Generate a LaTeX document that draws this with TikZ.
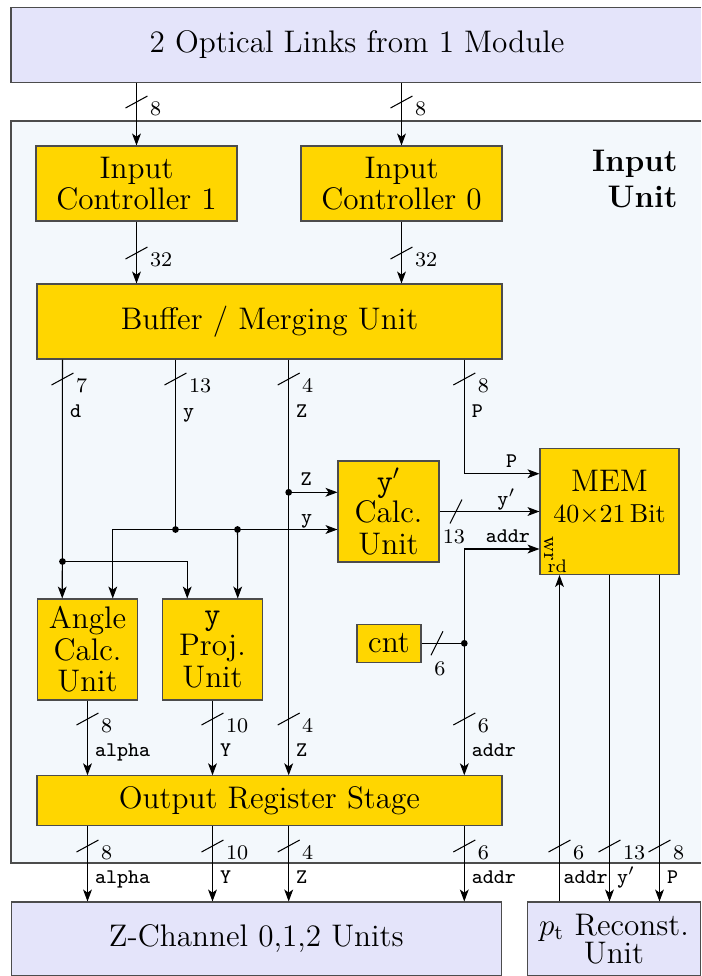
\documentclass[tikz,border=0pt]{standalone}
\usetikzlibrary{arrows.meta,calc}
\definecolor{blockyellow}{RGB}{255,214,0}
\definecolor{linkblue}{RGB}{228,228,250}
\definecolor{unitblue}{RGB}{243,248,252}
\newcommand\pxu{0.3846pt}

\begin{document}
\begin{tikzpicture}[x=\pxu,y=-\pxu,>={Stealth[length=4.6pt,width=3.4pt,inset=1.2pt]},
  blk/.style={draw=black!70,fill=blockyellow,align=center,inner sep=0pt,font=\fontsize{12}{12.1}\selectfont},
  ext/.style={draw=black!70,fill=linkblue,align=center,inner sep=0pt,font=\large},
  num/.style={font=\footnotesize,anchor=base west,inner sep=0pt},
  sig/.style={font=\footnotesize\ttfamily,anchor=base west,inner sep=0pt},
  lbl/.style={font=\footnotesize\ttfamily,anchor=base,inner sep=0pt,yshift=2.5pt}]
\useasboundingbox (0,0) rectangle (701,976);
\clip (0,0) rectangle (701,976);
% outer boxes
\node[ext,minimum width=692*\pxu,minimum height=75*\pxu] (links) at (357,45) {2 Optical Links from 1 Module};
\node[draw=black!70,fill=unitblue,minimum width=692*\pxu,minimum height=742*\pxu,inner sep=0pt] (inunit) at (357,492) {};
\node[font=\large\bfseries,align=right,anchor=north east,inner sep=0pt] (unitlabel) at (678,149.5) {Input\\Unit};
\node[ext,minimum width=490*\pxu,minimum height=74*\pxu] (zch) at (256.3,939) {Z-Channel 0,1,2 Units};
\node[ext,minimum width=173*\pxu,minimum height=74*\pxu,font=\fontsize{12}{11}\selectfont] (ptrec) at (614,939) {$p_\mathrm{t}$ Reconst.\\Unit};
% blocks
\node[blk,minimum width=201*\pxu,minimum height=75*\pxu] (ic1) at (136.5,183.5) {Input\\Controller 1};
\node[blk,minimum width=201*\pxu,minimum height=75*\pxu] (ic0) at (401.5,183.5) {Input\\Controller 0};
\node[blk,minimum width=465*\pxu,minimum height=75*\pxu] (buf) at (269.5,321.5) {Buffer / Merging Unit};
\node[blk,minimum width=101*\pxu,minimum height=101*\pxu] (ycalc) at (388.5,511.5) {\texttt{y}$'$\\Calc.\\Unit};
\node[blk,minimum width=139*\pxu,minimum height=126*\pxu] (mem) at (609.5,511.5) {};
\node[align=center,inner sep=0pt,font=\fontsize{12}{12.1}\selectfont] (memtext) at (609.5,497.5) {MEM\\{\normalsize 40$\times$21\,Bit}};
\node[font=\footnotesize,rotate=-90,inner sep=0pt] (wrport) at (548.5,549) {wr};
\node[font=\scriptsize,anchor=base west,inner sep=0pt] (rdlabel) at (547,572.5) {rd};
\node[blk,minimum width=100*\pxu,minimum height=101*\pxu] (ang) at (87.5,649.5) {Angle\\Calc.\\Unit};
\node[blk,minimum width=100*\pxu,minimum height=101*\pxu] (yproj) at (212.5,649.5) {\texttt{y}\\Proj.\\Unit};
\node[blk,minimum width=64*\pxu,minimum height=38*\pxu] (cnt) at (389,643.3) {cnt};
\node[blk,minimum width=465*\pxu,minimum height=50*\pxu] (ors) at (269.5,800.8) {Output Register Stage};
% split points
\coordinate (dsplit) at (62.5,561.5);
\coordinate (ysplit) at (175.5,529.5);
\coordinate (ysplit2) at (237.5,529.5);
\coordinate (zsplit) at (288.7,492.3);
\coordinate (pbend) at (464.3,473.7);
\coordinate (abend) at (464.3,549);
\coordinate (asplit) at (464.3,643.3);
\coordinate (rdport) at ($(mem.south)+(-50,0)$);
\coordinate (pport) at ($(mem.south)+(50,0)$);
% connectors
\foreach \n in {ic1,ic0}{
\draw[->] (\n.north |- links.south) -- (\n.north);
\draw[->] (\n.south) -- (\n.south |- buf.north);
}
\draw[->] (dsplit |- buf.south) -- ($(ang.north west)!0.5!(ang.north)$);
\draw[->] (dsplit) -| ($(yproj.north west)!0.5!(yproj.north)$);
\draw (ysplit |- buf.south) -- (ysplit);
\draw[->] (ysplit) -| ($(ang.north)!0.5!(ang.north east)$);
\draw[->] (ysplit) -- (ysplit -| ycalc.west) node[lbl,pos=0.81] {y};
\draw[->] (ysplit2) -- ($(yproj.north)!0.5!(yproj.north east)$);
\draw[->] (zsplit |- buf.south) -- (zsplit |- ors.north);
\draw[->] (zsplit) -- (zsplit -| ycalc.west) node[lbl,pos=0.36] {Z};
\draw[->] (pbend |- buf.south) -- (pbend) -- (pbend -| mem.west) node[lbl,pos=0.63] {P};
\draw[->] (ycalc.east) -- (ycalc.east -| mem.west) node[lbl,pos=0.67] {y$'$};
\draw (cnt.east) -- (asplit);
\draw[->] (asplit) -- (abend) -- (abend -| mem.west) node[lbl,pos=0.58] {addr};
\draw[->] (asplit) -- (asplit |- ors.north);
\foreach \n in {ang,yproj} \draw[->] (\n.south) -- (\n.south |- ors.north);
\foreach \n in {ang,yproj,zsplit,asplit} \draw[->] (\n |- ors.south) -- (\n |- zch.north);
\draw[->] (rdport |- ptrec.north) -- (rdport);
\draw[->] (mem.south) -- (mem.south |- ptrec.north);
\draw[->] (pport) -- (pport |- ptrec.north);
\foreach \c in {dsplit,ysplit,ysplit2,zsplit,asplit} \fill (\c) circle[radius=1.3pt];
% bus widths
\foreach \x/\y/\w in {136.5/102/8,401.5/102/8,136.5/253/32,401.5/253/32,62.5/379/7,175.5/379/13,288.7/379/4,464.3/379/8,
  87.5/719/8,212.5/719/10,288.7/719/4,464.3/719/6,87.5/846/8,212.5/846/10,288.7/846/4,464.3/846/6,559.5/846/6,609.5/846/13,659.5/846/8}{
\draw (\x-11,\y+6) -- (\x+11,\y-6);
\node[num] at (\x+13,\y+13) {\w};
}
\foreach \x/\y/\w/\dx in {456/511.5/13/-2,437/643.3/6/3}{
\draw (\x-6,\y+12) -- (\x+6,\y-12);
\node[num,anchor=base] at (\x+\dx,\y+32) {\w};
}
\foreach \x/\y/\s in {62.5/417/d,175.5/417/y,288.7/417/Z,464.3/417/P,87.5/756/alpha,212.5/756/Y,288.7/756/Z,464.3/756/addr,
  87.5/883/alpha,212.5/883/Y,288.7/883/Z,464.3/883/addr,556/883/addr,609.5/883/y$'$,659.5/883/P}
\node[sig] at (\x+7,\y) {\s};
\end{tikzpicture}
\end{document}
